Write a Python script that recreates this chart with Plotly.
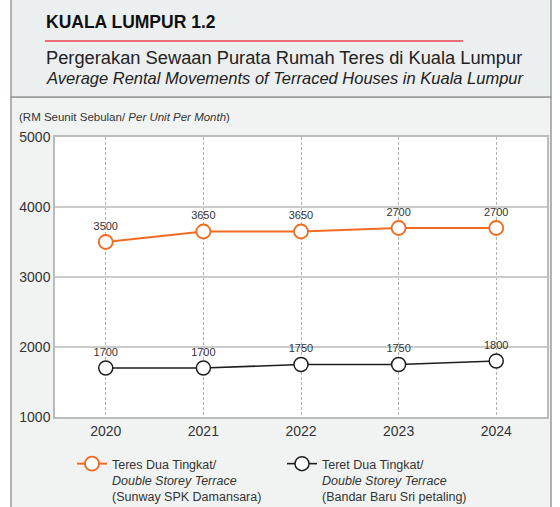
import plotly.graph_objects as go

years = [2020, 2021, 2022, 2023, 2024]
double_storey_spk = [3500, 3650, 3650, 3700, 3700]
double_storey_spk_labels = ["3500", "3650", "3650", "2700", "2700"]
double_storey_bbsp = [1700, 1700, 1750, 1750, 1800]
double_storey_bbsp_labels = ["1700", "1700", "1750", "1750", "1800"]

series1_name = "Teres Dua Tingkat/<br><i>Double Storey Terrace</i><br>(Sunway SPK Damansara)"
series2_name = "Teret Dua Tingkat/<br><i>Double Storey Terrace</i><br>(Bandar Baru Sri petaling)"

W, H = 560, 507
L, R, T, B = 55, 547, 137, 417
FONT = "Arial, 'Liberation Sans', sans-serif"
ORANGE = "#f26a21"
DARK = "#1e1e1e"


def xp(px):
    return (px - L) / (R - L)


def yp(py):
    return (B - py) / (B - T)


fig = go.Figure()
fig.add_trace(go.Scatter(
    x=years, y=double_storey_spk, name=series1_name,
    mode="lines+markers+text", text=double_storey_spk_labels,
    textposition="top center", textfont=dict(size=11, color="#333", family=FONT),
    line=dict(color=ORANGE, width=2),
    marker=dict(symbol="circle", size=14, color="white", line=dict(color=ORANGE, width=1.8)),
    cliponaxis=False,
))
fig.add_trace(go.Scatter(
    x=years, y=double_storey_bbsp, name=series2_name,
    mode="lines+markers+text", text=double_storey_bbsp_labels,
    textposition="top center", textfont=dict(size=11, color="#333", family=FONT),
    line=dict(color=DARK, width=1.6),
    marker=dict(symbol="circle", size=14, color="white", line=dict(color=DARK, width=1.5)),
    cliponaxis=False,
))

shapes = [
    dict(type="rect", xref="paper", yref="paper", x0=xp(11), x1=xp(551), y0=yp(510), y1=yp(97),
         fillcolor="#f1f3f3", line=dict(color="#9a9a9a", width=1.5), layer="below"),
    dict(type="rect", xref="paper", yref="paper", x0=xp(11), x1=xp(551), y0=yp(97), y1=yp(-2),
         fillcolor="#eceff0", line=dict(color="#9a9a9a", width=1.5), layer="below"),
    dict(type="rect", xref="paper", yref="paper", x0=0, x1=1, y0=0, y1=1,
         fillcolor="white", line=dict(width=0), layer="below"),
    dict(type="line", xref="paper", yref="paper", x0=xp(45), x1=xp(463), y0=yp(41), y1=yp(41),
         line=dict(color="#e8444c", width=1.5)),
]

annotations = [
    dict(text="<b>KUALA LUMPUR 1.2</b>", x=xp(44), y=yp(22), xref="paper", yref="paper",
         xanchor="left", yanchor="middle", showarrow=False,
         font=dict(size=17.5, color="#111", family=FONT)),
    dict(text="Pergerakan Sewaan Purata Rumah Teres di Kuala Lumpur", x=xp(44), y=yp(58),
         xref="paper", yref="paper", xanchor="left", yanchor="middle", showarrow=False,
         font=dict(size=18.3, color="#222", family=FONT)),
    dict(text="<i>Average Rental Movements of Terraced Houses in Kuala Lumpur</i>", x=xp(44), y=yp(78),
         xref="paper", yref="paper", xanchor="left", yanchor="middle", showarrow=False,
         font=dict(size=16.5, color="#222", family=FONT)),
    dict(text="(RM Seunit Sebulan/ <i>Per Unit Per Month</i>)", x=xp(17), y=yp(117),
         xref="paper", yref="paper", xanchor="left", yanchor="middle", showarrow=False,
         font=dict(size=11.5, color="#333", family=FONT)),
]

fig.update_layout(
    width=W, height=H,
    margin=dict(l=L, r=W - R, t=T, b=H - B, autoexpand=False),
    paper_bgcolor="white", plot_bgcolor="white",
    font=dict(family=FONT, color="#333"),
    shapes=shapes, annotations=annotations,
    hovermode=False,
    showlegend=True,
    legend=dict(orientation="h", x=xp(72), y=yp(449), xanchor="left", yanchor="top",
                bgcolor="rgba(0,0,0,0)", valign="top", entrywidth=165, entrywidthmode="pixels",
                font=dict(size=12.5, color="#333", family=FONT), tracegroupgap=0),
)
fig.update_xaxes(
    range=[2019.48, 2024.52], tickvals=years, ticktext=[str(y) for y in years],
    showgrid=True, gridcolor="#b0b0b0", griddash="3px,2px", gridwidth=1,
    showline=True, linecolor="#bbbbbb", linewidth=1.5, mirror=True,
    tickfont=dict(size=14, color="#333"), ticks="", zeroline=False,
)
fig.update_yaxes(
    range=[1000, 5000], tickvals=[1000, 2000, 3000, 4000, 5000],
    showgrid=True, gridcolor="#cccccc", gridwidth=1.5,
    showline=True, linecolor="#bbbbbb", linewidth=1.5, mirror=True,
    tickfont=dict(size=14, color="#333"), ticks="", zeroline=False,
)

fig.write_html("out.html", config={"displayModeBar": False},
               post_script="document.body.style.margin='0';")
